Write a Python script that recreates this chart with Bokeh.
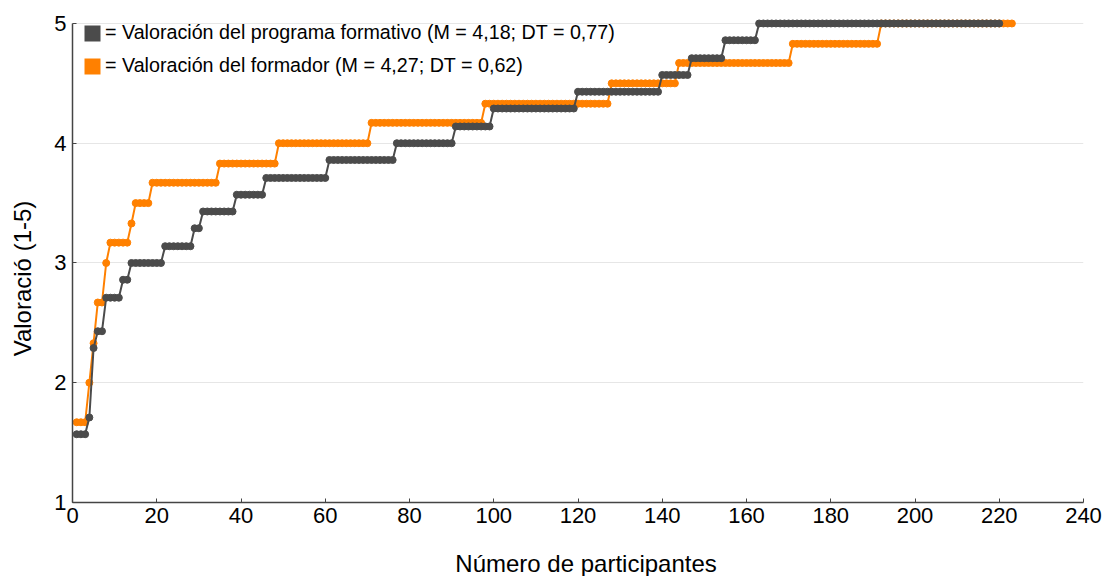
import numpy as np
from bokeh.plotting import figure
from bokeh.layouts import column, row
from bokeh.models import (Range1d, ColumnDataSource, Legend, LegendItem,
                          FixedTicker, Label)
from bokeh.embed import file_html
from bokeh.resources import INLINE

# Sorted ratings per participant, stored as (level, number of participants)
programa_levels = [1.57, 1.71, 2.29, 2.43, 2.71, 2.86, 3.00, 3.14, 3.29, 3.43,
                   3.57, 3.71, 3.86, 4.00, 4.14, 4.29, 4.43, 4.57, 4.71, 4.86, 5.00]
programa_counts = [3, 1, 1, 2, 4, 2, 8, 7, 2, 8,
                   7, 15, 16, 14, 9, 20, 20, 7, 8, 8, 58]

formador_levels = [1.67, 2.00, 2.33, 2.67, 3.00, 3.17, 3.33, 3.50, 3.67,
                   3.83, 4.00, 4.17, 4.33, 4.50, 4.67, 4.83, 5.00]
formador_counts = [3, 1, 1, 2, 1, 5, 1, 4, 16,
                   14, 22, 27, 30, 16, 27, 21, 32]

x_ticks = [0, 20, 40, 60, 80, 100, 120, 140, 160, 180, 200, 220, 240]
y_ticks = [1, 2, 3, 4, 5]

label_programa = "= Valoración del programa formativo (M = 4,18; DT = 0,77)"
label_formador = "= Valoración del formador (M = 4,27; DT = 0,62)"
x_title = "Número de participantes"
y_title = "Valoració (1-5)"

GRAY = "#4b4b4b"
ORANGE = "#ff8000"
FONT = "Liberation Sans"


def series(levels, counts):
    y = np.repeat(levels, counts)
    x = np.arange(1, len(y) + 1)
    return ColumnDataSource(dict(x=x, y=y))


def title_strip(width, height):
    """Blank panel whose range equals its own pixel grid, used for axis titles."""
    s = figure(width=width, height=height, output_backend="svg",
               toolbar_location=None, x_axis_location=None, y_axis_location=None,
               x_range=Range1d(0, width), y_range=Range1d(0, height),
               min_border_left=0, min_border_right=0,
               min_border_top=0, min_border_bottom=0)
    s.grid.visible = False
    s.outline_line_color = None
    return s


src_prog = series(programa_levels, programa_counts)
src_form = series(formador_levels, formador_counts)

p = figure(width=1065, height=546, output_backend="svg", toolbar_location=None,
           x_range=Range1d(0, 240), y_range=Range1d(1, 5.1),
           min_border_left=32, min_border_right=22,
           min_border_top=11, min_border_bottom=44)
p.outline_line_color = None
p.background_fill_color = "white"

# orange first so the gray series sits on top
p.line("x", "y", source=src_form, color=ORANGE, line_width=2)
p.scatter("x", "y", source=src_form, size=7, fill_color=ORANGE, line_color=ORANGE)
p.line("x", "y", source=src_prog, color=GRAY, line_width=2)
p.scatter("x", "y", source=src_prog, size=7, fill_color=GRAY, line_color=GRAY)

# legend swatches (a single empty quad each, only shown in the legend)
empty = dict(left=[np.nan], right=[np.nan], top=[np.nan], bottom=[np.nan])
sw_prog = p.quad(source=ColumnDataSource(empty), left="left", right="right",
                 top="top", bottom="bottom", fill_color=GRAY, line_alpha=0)
sw_form = p.quad(source=ColumnDataSource(dict(empty)), left="left", right="right",
                 top="top", bottom="bottom", fill_color=ORANGE, line_alpha=0)
legend = Legend(items=[LegendItem(label=label_programa, renderers=[sw_prog]),
                       LegendItem(label=label_formador, renderers=[sw_form])],
                location="top_left", margin=10, padding=0, spacing=10,
                glyph_width=20, glyph_height=20, label_height=20,
                label_standoff=3, label_text_font=FONT,
                label_text_font_size="19.7px", label_text_color="black",
                background_fill_alpha=0, border_line_color=None)
p.add_layout(legend)

# axes
for ax in (p.xaxis[0], p.yaxis[0]):
    ax.axis_line_color = "#444444"
    ax.axis_line_width = 1.5
    ax.major_tick_line_color = "#444444"
    ax.major_tick_in = 4
    ax.major_tick_out = 0
    ax.minor_tick_line_color = None
    ax.major_label_text_font = FONT
    ax.major_label_text_font_size = "22px"
    ax.major_label_text_color = "black"

p.xaxis.ticker = FixedTicker(ticks=x_ticks)
p.yaxis.ticker = FixedTicker(ticks=y_ticks)
p.yaxis.bounds = (1, 5)
p.xaxis.major_label_standoff = 5
p.yaxis.major_label_standoff = 6

p.xgrid.grid_line_color = None
p.ygrid.grid_line_color = "#e6e6e6"
p.ygrid.grid_line_width = 1

# axis titles in thin panels beside and under the chart
ystrip = title_strip(40, 576)
ystrip.add_layout(Label(x=22, y=298, text=y_title, angle=np.pi / 2,
                        text_align="center", text_baseline="middle",
                        text_font=FONT, text_font_size="24px",
                        text_color="black"))
xstrip = title_strip(1065, 30)
xstrip.add_layout(Label(x=541, y=13, text=x_title, text_align="center",
                        text_baseline="middle", text_font=FONT,
                        text_font_size="24px", text_color="black"))

layout = row(ystrip, column(p, xstrip, spacing=0), spacing=0)
open("out.html", "w").write(file_html(layout, INLINE))
